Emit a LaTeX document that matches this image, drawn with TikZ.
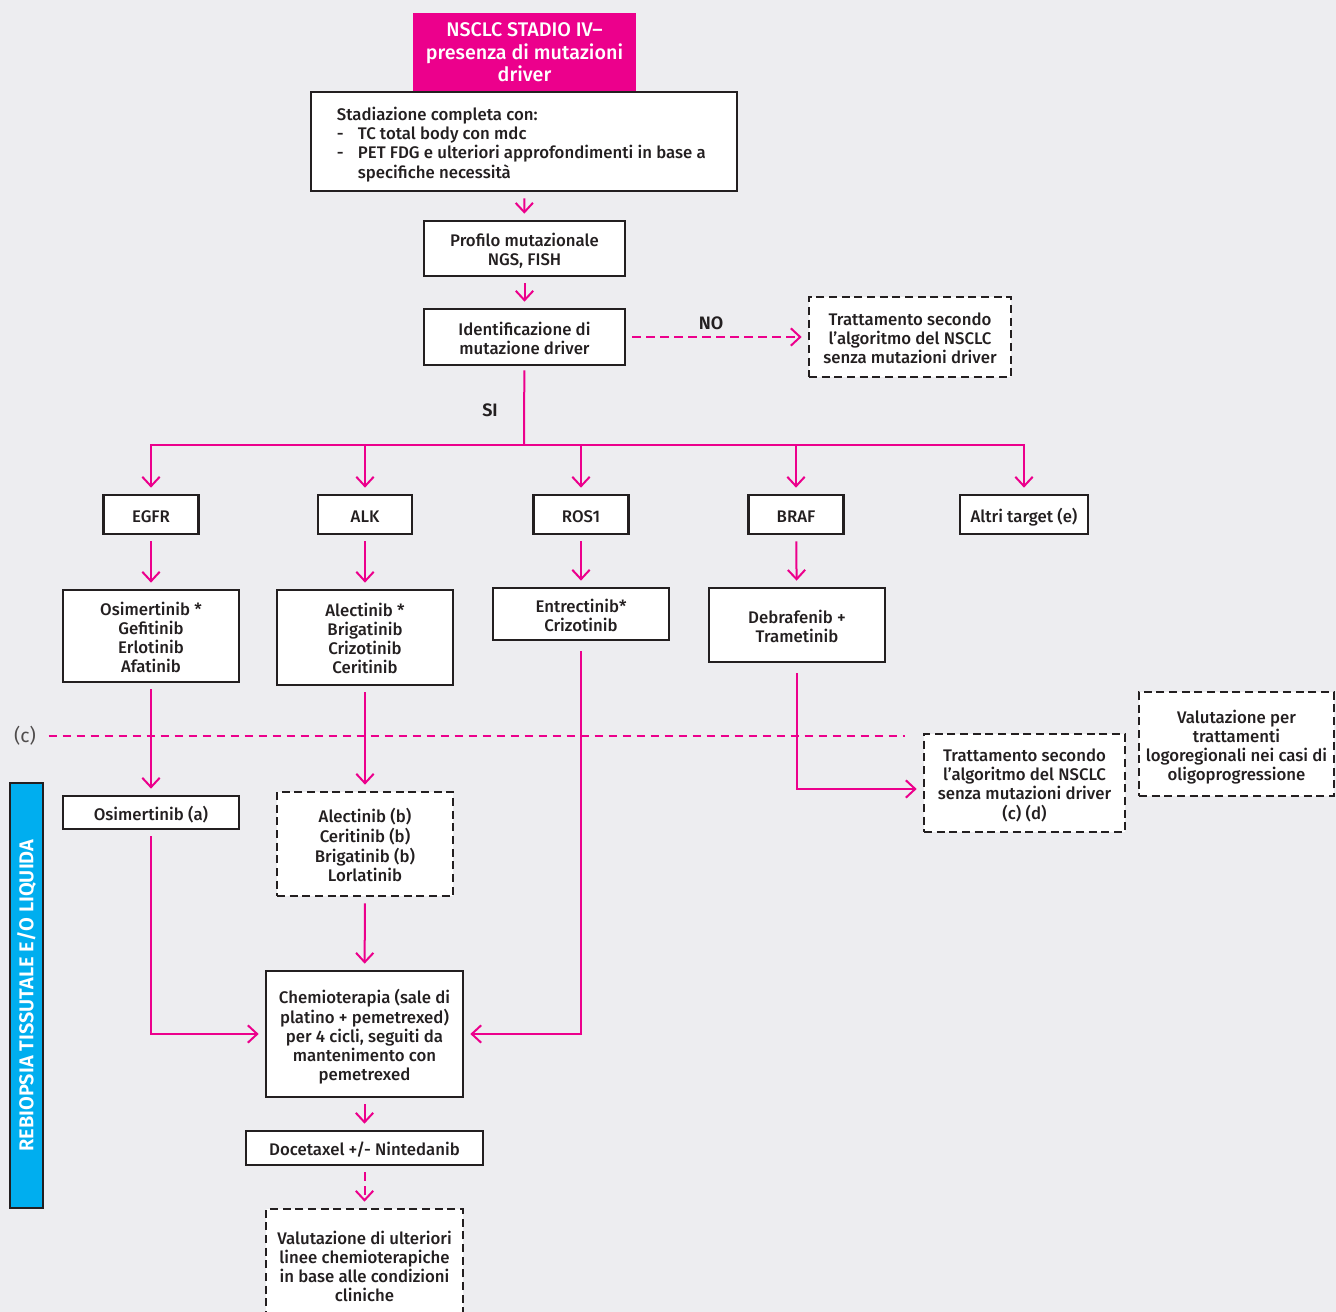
\documentclass[tikz,border=0pt]{standalone}
\usepackage{fontspec}
\setmainfont{Fira Sans}[UprightFont=* Medium, BoldFont=* SemiBold]
\newfontfamily\plainfont{Fira Sans}
\usetikzlibrary{arrows.meta}
\definecolor{mutpink}{HTML}{EC008C}
\definecolor{panel}{HTML}{EDEDF0}
\definecolor{ink}{HTML}{231F20}
\definecolor{rebiopsy}{HTML}{00AEEF}
% box text, set a little below the middle of its box
\newcommand{\boxtext}[2][c]{\raisebox{-3pt}[\height][\depth]{\begin{tabular}{@{}#1@{}}#2\end{tabular}}}
\tikzset{
    wh/.style 2 args={minimum width=#1*0.75pt, minimum height=#2*0.75pt},
    txt/.style={text=ink, font=\fontsize{12.6}{14.25}\selectfont},
    box/.style={txt, draw=ink, fill=white, line width=2pt, inner sep=0pt},
    dashbox/.style={box, dash pattern=on 6pt off 3.5pt},
    wire/.style={draw=mutpink, line width=1.5pt},
    link/.style={wire, shorten <=4.5pt, shorten >=4.5pt,
                 -{Straight Barb[length=7pt,width=13pt]}},
    dashlink/.style={link, dash pattern=on 6.5pt off 4pt}
}
\begin{document}
\begin{tikzpicture}[x=0.75pt, y=-0.75pt]

    \useasboundingbox (0,0) rectangle (1336,1312);
    \clip (0,0) rectangle (1336,1312);
    \fill[panel] (0,0) rectangle (1336,1312);

    % top of the algorithm
    \node[fill=mutpink, text=white, align=center, wh={223}{78},
          font=\fontsize{14.8}{17}\selectfont] (title)
          at (524.5,52.5) {NSCLC STADIO IV–\\presenza di mutazioni\\driver};
    \node[box, wh={426}{99}] (stad) at (524,141.5)
          {\boxtext[l]{Stadiazione completa con:\\
           \makebox[15.75pt][l]{-}TC total body con mdc\\
           \makebox[15.75pt][l]{-}PET FDG e ulteriori approfondimenti in base a\\
           \hspace*{15.75pt}specifiche necessità}\hspace*{4pt}};
    \node[box, wh={201}{55}] (prof) at (524.5,248.5)
          {\boxtext{Profilo mutazionale\\NGS, FISH}};
    \node[box, wh={201}{56}] (ident) at (524.5,337)
          {\boxtext{Identificazione di\\mutazione driver}};
    \node[dashbox, wh={202}{80}] (trat1) at (910,337)
          {\boxtext{Trattamento secondo\\l’algoritmo del NSCLC\\senza mutazioni driver}};
    \node[txt, font=\bfseries\fontsize{13.5}{15}\selectfont] (no) at (711,323) {NO};
    \node[txt, font=\bfseries\fontsize{13.5}{15}\selectfont] (si) at (490,410) {SI};

    % targets
    \node[box, wh={95}{39}] (egfr) at (151,514.5) {\boxtext{EGFR}};
    \node[box, wh={94}{39}] (alk) at (365,514.5) {\boxtext{ALK}};
    \node[box, wh={95}{39}] (ros) at (581,514.5) {\boxtext{ROS1}};
    \node[box, wh={95}{39}] (braf) at (796,514.5) {\boxtext{BRAF}};
    \node[box, wh={128}{39}] (altri) at (1024,514.5) {\boxtext{Altri target (e)}};

    % first line
    \node[box, wh={176}{92}] (egfrdrug) at (151,636)
          {\boxtext{Osimertinib *\\Gefitinib\\Erlotinib\\Afatinib}};
    \node[box, wh={176}{95}] (alkdrug) at (365,637.5)
          {\boxtext{Alectinib *\\Brigatinib\\Crizotinib\\Ceritinib}};
    \node[box, wh={176}{52}] (rosdrug) at (581,614)
          {\boxtext{Entrectinib*\\Crizotinib}};
    \node[box, wh={176}{74}] (brafdrug) at (797,625)
          {\boxtext{Debrafenib +\\Trametinib}};

    % progression
    \node[text=ink!80, font=\plainfont\fontsize{14.5}{16}\selectfont] (clab)
          at (25,736) {(c)};
    \coordinate (cend) at (905,736);
    \node[box, wh={176}{33}] (osima) at (151,812.5) {\boxtext{Osimertinib (a)}};
    \node[dashbox, wh={176}{104}] (alkdash) at (365,844)
          {\boxtext{Alectinib (b)\\Ceritinib (b)\\Brigatinib (b)\\Lorlatinib}};
    \node[dashbox, wh={201}{98}] (trat2) at (1024.5,783)
          {\boxtext{Trattamento secondo\\l’algoritmo del NSCLC\\senza mutazioni driver\\(c) (d)}};
    \node[dashbox, wh={195}{104}] (valut) at (1236.5,744)
          {\boxtext{Valutazione per\\trattamenti\\logoregionali nei casi di\\oligoprogressione}};
    \node[box, wh={197}{126}] (chemio) at (364.5,1034)
          {\boxtext{Chemioterapia (sale di\\platino + pemetrexed)\\per 4 cicli, seguiti da\\mantenimento con\\pemetrexed}};
    \node[box, wh={237}{34}] (doce) at (364.5,1148) {\boxtext{Docetaxel +/- Nintedanib}};
    \node[dashbox, wh={197}{112}] (ulteriori) at (364.5,1265)
          {\boxtext{Valutazione di ulteriori\\linee chemioterapiche\\in base alle condizioni\\cliniche}};
    \node[draw=ink, fill=rebiopsy, line width=2pt, rotate=90, wh={425}{33},
          text=white, font=\bfseries\fontsize{15}{17}\selectfont] (rebio)
          at (26.5,995.5) {REBIOPSIA TISSUTALE E/O LIQUIDA};

    % connectors
    \draw[link] (stad) -- (prof);
    \draw[link] (prof) -- (ident);
    \draw[dashlink] (ident) -- (trat1);
    \coordinate (split) at (524,445);
    \draw[wire, shorten <=3pt] (ident) -- (split);
    \foreach \n in {egfr,alk,ros,braf,altri}
        \draw[link, shorten <=0pt] (split) -| (\n);
    \foreach \a/\b in {egfr/egfrdrug, alk/alkdrug, ros/rosdrug, braf/brafdrug,
                       egfrdrug/osima, alkdrug/alkdash, alkdash/chemio, chemio/doce}
        \draw[link] (\a) -- (\b);
    \draw[wire, dash pattern=on 6.5pt off 4pt, shorten <=6pt] (clab) -- (cend);
    \draw[link] (osima) |- (chemio);
    \draw[link, shorten <=7.5pt] (rosdrug) |- (chemio);
    \draw[link, shorten <=7.5pt] (brafdrug) |- ([yshift=-4.5pt]trat2.west);
    \draw[dashlink] (doce) -- (ulteriori);
\end{tikzpicture}
\end{document}
